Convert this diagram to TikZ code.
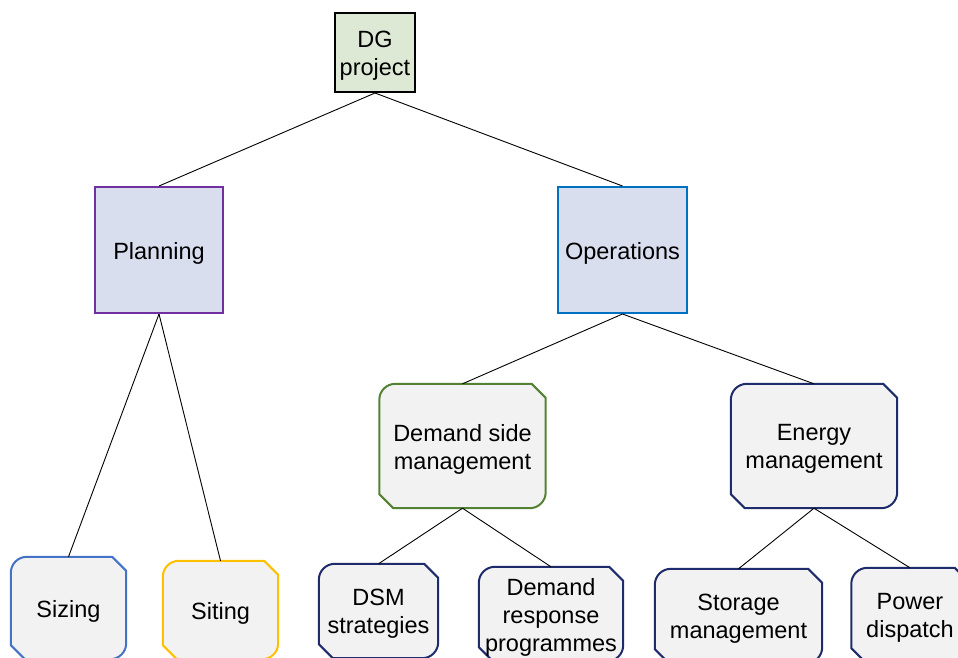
\documentclass[tikz,border=0pt]{standalone}
\usepackage{fontspec}
\setmainfont{Liberation Sans}
\usetikzlibrary{calc,backgrounds}
\definecolor{dgfill}{HTML}{DDE9D5}
\definecolor{topfill}{HTML}{D9DEEF}
\definecolor{planborder}{HTML}{7030A0}
\definecolor{opsborder}{HTML}{0070C0}
\definecolor{dsmborder}{HTML}{548235}
\definecolor{navyborder}{HTML}{1F2C6B}
\definecolor{sizeborder}{HTML}{4472C4}
\definecolor{siteborder}{HTML}{FFC000}
\definecolor{snipfill}{HTML}{F2F2F2}
\newcommand{\snipshape}[2]{%
  \begin{scope}[on background layer]
  \filldraw[draw=#2, fill=snipfill, line width=2pt]
    ($(#1.north west)+(0pt,-16pt)$) arc[start angle=180,end angle=90,radius=16pt]
    -- ($(#1.north east)+(-14pt,0pt)$) -- ($(#1.north east)+(0pt,-14pt)$)
    -- ($(#1.south east)+(0pt,16pt)$) arc[start angle=0,end angle=-90,radius=16pt]
    -- ($(#1.south west)+(14pt,0pt)$) -- ($(#1.south west)+(0pt,14pt)$) -- cycle;
  \end{scope}}
\tikzset{
  lbl/.style={align=center, inner sep=0pt, font=\fontsize{23.5}{28}\selectfont},
  txt/.style={label={[lbl, yshift=-3pt]center:#1}},
  rectbox/.style={inner sep=0pt, line width=2pt},
  snip/.style={inner sep=0pt},
  conn/.style={draw=black, line width=0.9pt}
}
\begin{document}
\begin{tikzpicture}[x=1pt,y=-1pt]
\useasboundingbox (0,0) rectangle (958,657);
\clip (0,0) rectangle (958,657);
\node[rectbox, draw=black, fill=dgfill, minimum width=80pt, minimum height=79pt, txt={DG\\project}] (dg) at (375,52.5) {};
\node[rectbox, draw=planborder, fill=topfill, minimum width=128pt, minimum height=126pt, txt={Planning}] (plan) at (159,250) {};
\node[rectbox, draw=opsborder, fill=topfill, minimum width=129pt, minimum height=126pt, txt={Operations}] (ops) at (622.5,250) {};
\node[snip, minimum width=166pt, minimum height=124pt, txt={Demand side\\management}] (dsm) at (462.5,446) {};
\node[snip, minimum width=166pt, minimum height=124pt, txt={Energy\\management}] (em) at (814,446) {};
\node[snip, minimum width=115pt, minimum height=102pt, txt={Sizing}] (size) at (68.5,608) {};
\node[snip, minimum width=115pt, minimum height=98pt, txt={Siting}] (site) at (220.5,610) {};
\node[snip, minimum width=119pt, minimum height=94pt, txt={DSM\\strategies}] (dsms) at (378.5,611) {};
\node[snip, minimum width=144pt, minimum height=94pt, txt={Demand\\response\\programmes}] (drp) at (551,614) {};
\node[snip, minimum width=167pt, minimum height=94pt, txt={Storage\\management}] (stor) at (738.5,616) {};
\node[snip, minimum width=117pt, minimum height=94pt, txt={Power\\dispatch}] (pd) at (910,615) {};
\snipshape{dsm}{dsmborder}
\snipshape{em}{navyborder}
\snipshape{size}{sizeborder}
\snipshape{site}{siteborder}
\snipshape{dsms}{navyborder}
\snipshape{drp}{navyborder}
\snipshape{stor}{navyborder}
\snipshape{pd}{navyborder}
\draw[conn] (dg.south) -- (plan.north);
\draw[conn] (dg.south) -- (ops.north);
\draw[conn] (plan.south) -- (size.north);
\draw[conn] (plan.south) -- (site.north);
\draw[conn] (ops.south) -- (dsm.north);
\draw[conn] (ops.south) -- (em.north);
\draw[conn] (dsm.south) -- (dsms.north);
\draw[conn] (dsm.south) -- (drp.north);
\draw[conn] (em.south) -- (stor.north);
\draw[conn] (em.south) -- (pd.north);
\end{tikzpicture}
\end{document}
